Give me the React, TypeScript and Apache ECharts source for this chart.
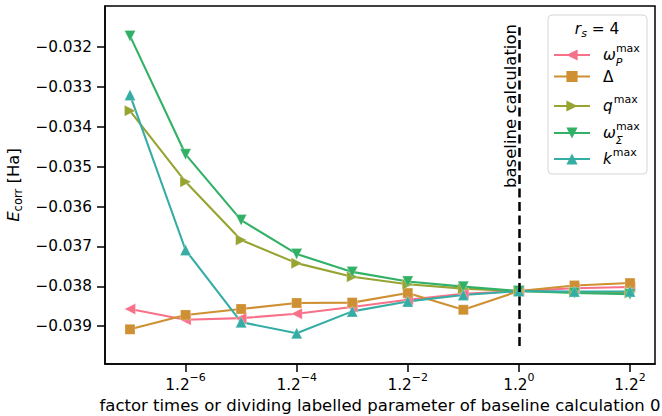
import React, { useEffect, useRef } from "react";
import * as echarts from "echarts";

// Scaling exponent n of the factor 1.2^n applied to each parameter
const exponents = [-7, -6, -5, -4, -3, -2, -1, 0, 1, 2];

// Correlation energies [Ha] per varied parameter
const omegaP = [-0.03857, -0.03884, -0.0388, -0.03869, -0.03852, -0.03834, -0.03819, -0.03812, -0.03805, -0.03802];
const delta = [-0.03908, -0.03872, -0.03857, -0.03842, -0.03841, -0.03817, -0.03859, -0.03812, -0.03798, -0.03792];
const qMax = [-0.0336, -0.03538, -0.03684, -0.03742, -0.03776, -0.03795, -0.03806, -0.03812, -0.03815, -0.03817];
const omegaSigma = [-0.03172, -0.03469, -0.03634, -0.03719, -0.03764, -0.03788, -0.03801, -0.03812, -0.03817, -0.0382];
const kMax = [-0.0332, -0.03709, -0.0389, -0.03918, -0.03863, -0.03838, -0.03822, -0.03812, -0.03813, -0.03813];

const xTicks = [-6, -4, -2, 0, 2];
const yTicks = [-0.039, -0.038, -0.037, -0.036, -0.035, -0.034, -0.033, -0.032];

// Baseline marker: exponent 0, drawn over this energy span
const baselineExp = 0;
const baselineSpan = [-0.0395, -0.0315];

const FONT = "DejaVu Sans";
const TICK_FS = 15.3;
const LABEL_FS = 16.5;
const SMALL_FS = 11;

const seriesDefs = [
  { name: "wP", label: "{g|}{it|ω}{sb|P}{sp|max}", values: omegaP, color: "#f77189", symbol: "path://M0,5L10,0L10,10Z", size: 11 },
  { name: "D", label: "{g|}{rm|Δ}", values: delta, color: "#ce9032", symbol: "rect", size: 10 },
  { name: "q", label: "{g|}{it|q}{sp2|max}", values: qMax, color: "#97a431", symbol: "path://M10,5L0,0L0,10Z", size: 11 },
  { name: "wS", label: "{g|}{it|ω}{sb|Σ}{sp|max}", values: omegaSigma, color: "#32b166", symbol: "path://M0,0L10,0L5,10Z", size: 11 },
  { name: "k", label: "{g|}{it|k}{sp2|max}", values: kMax, color: "#36ada4", symbol: "triangle", size: 11 },
];

const legendCenters = [53, 79, 104, 131, 157];

const legendRich = {
  g: { width: 8, lineHeight: 20 },
  it: { fontFamily: FONT, fontSize: TICK_FS, fontStyle: "italic", color: "#000", lineHeight: 20, verticalAlign: "middle" },
  rm: { fontFamily: FONT, fontSize: TICK_FS, color: "#000", lineHeight: 20, verticalAlign: "middle" },
  sb: { fontFamily: FONT, fontSize: SMALL_FS, fontStyle: "italic", color: "#000", lineHeight: 20, verticalAlign: "bottom", width: 0.1, padding: [0, 0, -3, 0] },
  sp: { fontFamily: FONT, fontSize: SMALL_FS, color: "#000", lineHeight: 20, verticalAlign: "top", padding: [-2, 0, 0, 0] },
  sp2: { fontFamily: FONT, fontSize: SMALL_FS, color: "#000", lineHeight: 20, verticalAlign: "top", padding: [-2, 0, 0, 1] },
};

const fmtExp = (v: number) => (v < 0 ? "−" + Math.abs(v) : String(v));

export default function App() {
  const ref = useRef<HTMLDivElement>(null);

  useEffect(() => {
    if (!ref.current) return;
    document.body.style.margin = "0";
    const chart = echarts.init(ref.current, undefined, { renderer: "svg" });

    const labelOf: Record<string, string> = {};
    seriesDefs.forEach((s) => (labelOf[s.name] = s.label));

    const series: any[] = [
      {
        type: "line",
        name: "baseline",
        data: [],
        z: 1,
        silent: true,
        markLine: {
          silent: true,
          symbol: ["none", "none"],
          animation: false,
          lineStyle: { color: "#000", width: 2.5, type: [9, 4.5] },
          label: { show: false },
          emphasis: { disabled: true },
          data: [[{ coord: [baselineExp, baselineSpan[0]] }, { coord: [baselineExp, baselineSpan[1]] }]],
        },
      },
      ...seriesDefs.map((s) => ({
        type: "line",
        name: s.name,
        data: exponents.map((x, i) => [x, s.values[i]]),
        symbol: s.symbol,
        symbolSize: s.size,
        showSymbol: true,
        z: 2,
        lineStyle: { color: s.color, width: 2.1 },
        itemStyle: { color: s.color, borderColor: "rgba(255,255,255,0.6)", borderWidth: 0.4 },
        emphasis: { disabled: true },
        silent: true,
      })),
    ];

    const legends = seriesDefs.map((s, i) => ({
      data: [s.name],
      orient: "horizontal",
      left: 553,
      top: legendCenters[i] - 10,
      padding: 0,
      itemWidth: 36,
      itemHeight: 14,
      selectedMode: false,
      formatter: (n: string) => labelOf[n],
      itemStyle: { borderWidth: 0 },
      textStyle: { fontFamily: FONT, fontSize: TICK_FS, color: "#000", rich: legendRich },
      z: 6,
    }));

    chart.setOption({
      animation: false,
      backgroundColor: "#fff",
      textStyle: { fontFamily: FONT },
      grid: {
        left: 105,
        right: 7,
        top: 6,
        bottom: 52,
        show: true,
        borderColor: "#000",
        borderWidth: 1.5,
        backgroundColor: "transparent",
        containLabel: false,
        outerBoundsMode: "none",
      },
      xAxis: {
        type: "value",
        min: -7.45,
        max: 2.45,
        name: "factor times or dividing labelled parameter of baseline calculation 0",
        nameLocation: "middle",
        nameGap: 31,
        nameTextStyle: { fontFamily: FONT, fontSize: LABEL_FS, color: "#000" },
        axisLine: { show: true, onZero: false, lineStyle: { color: "#000", width: 1.5 } },
        axisTick: { show: true, customValues: xTicks, length: 8, lineStyle: { color: "#000", width: 1.5 } },
        splitLine: { show: false },
        axisLabel: {
          customValues: xTicks,
          margin: 8,
          color: "#000",
          formatter: (v: number) => "{b|1.2}{s|" + fmtExp(v) + "}",
          rich: {
            b: { fontFamily: FONT, fontSize: TICK_FS, color: "#000", lineHeight: 20, verticalAlign: "bottom" },
            s: { fontFamily: FONT, fontSize: SMALL_FS, color: "#000", lineHeight: 20, verticalAlign: "top" },
          },
        },
      },
      yAxis: {
        type: "value",
        min: -0.03995,
        max: -0.03097,
        name: "{i|E}{s|corr}{n| [Ha]}",
        nameLocation: "middle",
        nameGap: 79,
        nameRotate: 90,
        nameTextStyle: {
          color: "#000",
          rich: {
            i: { fontFamily: FONT, fontSize: LABEL_FS, fontStyle: "italic", color: "#000", lineHeight: 22, verticalAlign: "middle" },
            s: { fontFamily: FONT, fontSize: 11.5, color: "#000", lineHeight: 22, verticalAlign: "bottom" },
            n: { fontFamily: FONT, fontSize: LABEL_FS, color: "#000", lineHeight: 22, verticalAlign: "middle" },
          },
        },
        axisLine: { show: true, onZero: false, lineStyle: { color: "#000", width: 1.5 } },
        axisTick: { show: true, customValues: yTicks, length: 8, lineStyle: { color: "#000", width: 1.5 } },
        splitLine: { show: false },
        axisLabel: {
          customValues: yTicks,
          margin: 13,
          color: "#000",
          fontFamily: FONT,
          fontSize: TICK_FS,
          formatter: (v: number) => "−" + Math.abs(v).toFixed(3),
        },
      },
      legend: legends,
      graphic: [
        {
          type: "rect",
          z: 3,
          silent: true,
          shape: { x: 548, y: 15, width: 99, height: 159, r: 4 },
          style: { fill: "rgba(255,255,255,0.85)", stroke: "#d6d6d6", lineWidth: 1 },
        },
        {
          type: "text",
          z: 5,
          x: 597,
          y: 29,
          silent: true,
          style: {
            text: "{i|r}{s|s}{n| = 4}",
            align: "center",
            verticalAlign: "middle",
            rich: {
              i: { fontFamily: FONT, fontSize: TICK_FS, fontStyle: "italic", fill: "#000", lineHeight: 20, verticalAlign: "middle" },
              s: { fontFamily: FONT, fontSize: SMALL_FS, fontStyle: "italic", fill: "#000", lineHeight: 20, verticalAlign: "bottom" },
              n: { fontFamily: FONT, fontSize: TICK_FS, fill: "#000", lineHeight: 20, verticalAlign: "middle" },
            },
          },
        },
        {
          type: "text",
          z: 5,
          x: 510,
          y: 106,
          rotation: Math.PI / 2,
          silent: true,
          style: {
            text: "baseline calculation",
            fontFamily: FONT,
            fontSize: LABEL_FS,
            fill: "#000",
            align: "center",
            verticalAlign: "middle",
          },
        },
      ],
      series,
    });

    return () => chart.dispose();
  }, []);

  return <div ref={ref} style={{ width: 662, height: 416 }} />;
}
